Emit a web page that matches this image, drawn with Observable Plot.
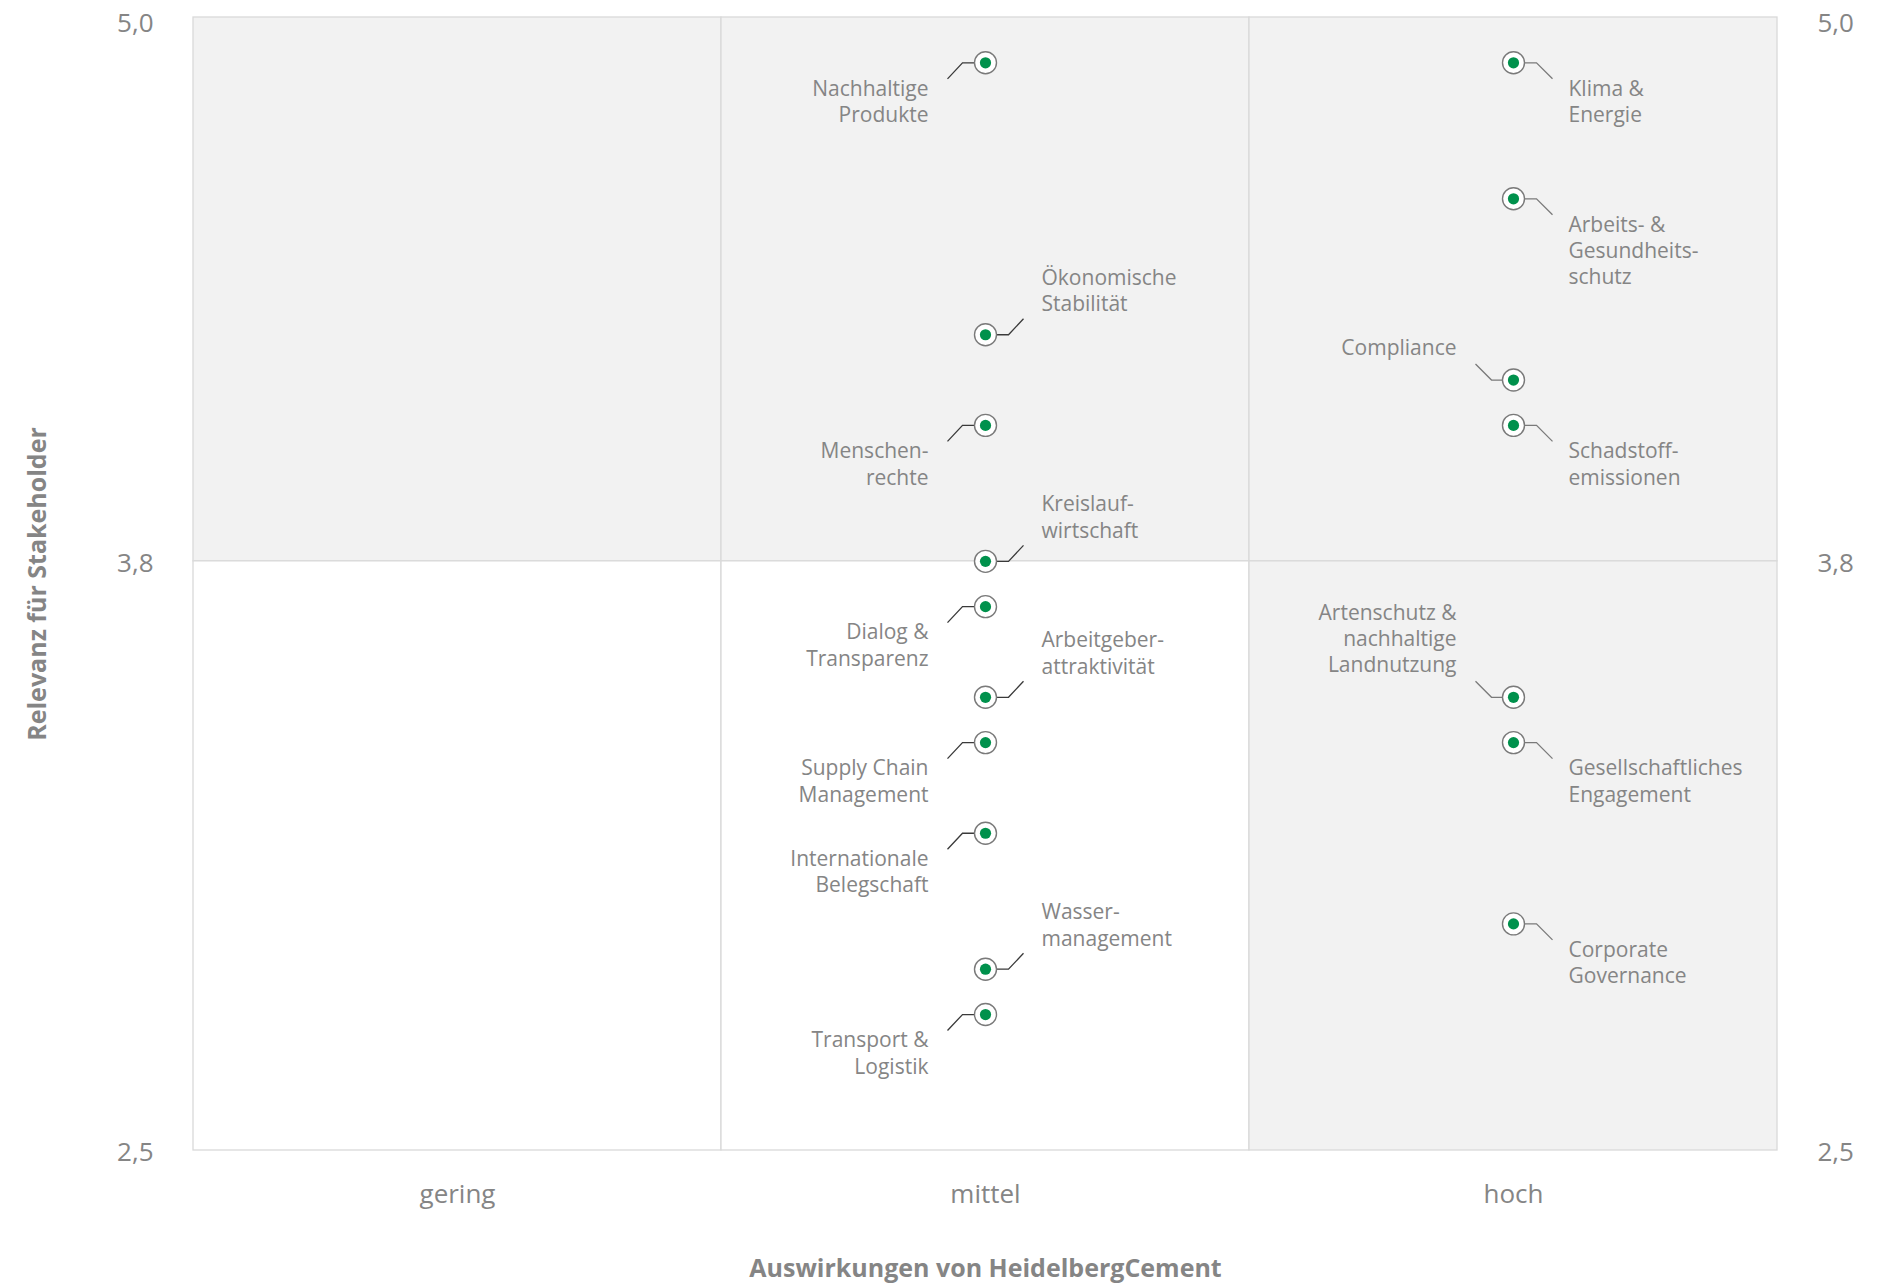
<!DOCTYPE html>
<html lang="de">
<head>
<meta charset="utf-8">
<script src="https://cdn.jsdelivr.net/npm/d3@7"></script>
<script src="https://cdn.jsdelivr.net/npm/@observablehq/plot@0.6"></script>
<style>
  html, body { margin: 0; padding: 0; background: #ffffff; }
  #chart svg { display: block; }
</style>
</head>
<body>
<div id="chart"></div>
<script>
// Wesentlichkeitsmatrix: Auswirkungen (Spalten) gegen Relevanz für Stakeholder (Skala 2,5–5,0)
const impactLevels = ["gering", "mittel", "hoch"];
const relevanceTicks = [2.5, 3.8];
const relevanceTopTick = [5.0];
const xTitle = "Auswirkungen von HeidelbergCement";
const yTitle = "Relevanz für Stakeholder";

// Themen, ihre Einstufung und die Seite, auf der die Beschriftung steht
const topics = [
  "Nachhaltige\nProdukte", "Klima &\nEnergie", "Arbeits- &\nGesundheits-\nschutz",
  "Ökonomische\nStabilität", "Compliance", "Menschen-\nrechte", "Schadstoff-\nemissionen",
  "Kreislauf-\nwirtschaft", "Dialog &\nTransparenz", "Arbeitgeber-\nattraktivität",
  "Artenschutz &\nnachhaltige\nLandnutzung", "Supply Chain\nManagement",
  "Gesellschaftliches\nEngagement", "Internationale\nBelegschaft", "Corporate\nGovernance",
  "Wasser-\nmanagement", "Transport &\nLogistik"
];
const impact = [
  "mittel", "hoch", "hoch", "mittel", "hoch", "mittel", "hoch", "mittel", "mittel",
  "mittel", "hoch", "mittel", "hoch", "mittel", "hoch", "mittel", "mittel"
];
const relevance = [
  4.9, 4.9, 4.6, 4.3, 4.2, 4.1, 4.1, 3.8, 3.7, 3.5, 3.5, 3.4, 3.4, 3.2, 3.0, 2.9, 2.8
];
const labelSide = [
  "ld", "rd", "rd", "ru", "lu", "ld", "rd", "ru", "ld", "ru", "lu", "ld", "rd", "ld", "rd", "ru", "ld"
];

// Matrixfelder: Spalte, untere/obere Grenze, hinterlegt ja/nein
const cellColumn = ["gering", "mittel", "hoch", "gering", "mittel", "hoch"];
const cellLow = [3.8, 3.8, 3.8, 2.5, 2.5, 2.5];
const cellHigh = [5.0, 5.0, 5.0, 3.8, 3.8, 3.8];
const cellShaded = [true, true, true, false, false, true];

const points = topics.map((t, i) => ({
  topic: t, impact: impact[i], relevance: relevance[i], side: labelSide[i]
}));
const cells = cellColumn.map((c, i) => ({
  column: c, low: cellLow[i], high: cellHigh[i], shaded: cellShaded[i]
}));

const textColor = "#858585";
const green = "#00914c";
const font = "'Open Sans', 'DejaVu Sans', sans-serif";
const fmt = d => d.toFixed(1).replace(".", ",");

// Leader-line shapes, drawn around each point's centre
const leaderShape = {
  ld: { draw(c) { c.moveTo(-11, 0); c.lineTo(-23, 0); c.lineTo(-38, 16); } },
  rd: { draw(c) { c.moveTo(11, 0); c.lineTo(23, 0); c.lineTo(39, 16); } },
  ru: { draw(c) { c.moveTo(11, 0); c.lineTo(23, 0); c.lineTo(38, -16); } },
  lu: { draw(c) { c.moveTo(-11, 0); c.lineTo(-22, 0); c.lineTo(-38, -16); } }
};
const labelStyle = {
  ld: { textAnchor: "end", dx: -57, lineAnchor: "top", dy: 14 },
  rd: { textAnchor: "start", dx: 55, lineAnchor: "top", dy: 14 },
  ru: { textAnchor: "start", dx: 56, lineAnchor: "bottom", dy: -23.5 },
  lu: { textAnchor: "end", dx: -57, lineAnchor: "bottom", dy: -25 }
};
const leaderColor = { mittel: "#3a3a3a", hoch: "#7a7a7a" };

const leaderMarks = [];
const labelMarks = [];
for (const side of Object.keys(leaderShape)) {
  for (const col of ["mittel", "hoch"]) {
    const subset = points.filter(d => d.side === side && d.impact === col);
    if (!subset.length) continue;
    leaderMarks.push(Plot.dot(subset, {
      x: "impact", y: "relevance", symbol: leaderShape[side], r: 10,
      fill: "none", stroke: leaderColor[col], strokeWidth: 1.3
    }));
  }
  const sideSubset = points.filter(d => d.side === side);
  labelMarks.push(Plot.text(sideSubset, {
    x: "impact", y: "relevance", text: "topic",
    ...labelStyle[side],
    lineHeight: 1.257, fontSize: 21, fill: textColor, fontFamily: font
  }));
}

const tickStyle = { tickSize: 0, tickPadding: 39, fontSize: 26, fill: textColor, tickFormat: fmt, label: null };

const chart = Plot.plot({
  width: 1879,
  height: 1283,
  marginLeft: 192,
  marginRight: 101,
  marginTop: 17,
  marginBottom: 133,
  style: { fontFamily: font, background: "#ffffff", color: textColor },
  x: { type: "band", domain: impactLevels, padding: 0 },
  y: { domain: [2.5, 5.0] },
  marks: [
    // quadrant fields with thin borders
    Plot.barY(cells, {
      x: "column", y1: "low", y2: "high",
      fill: d => d.shaded ? "#f2f2f2" : "#ffffff",
      stroke: "#d9d9d9", strokeWidth: 1.3
    }),
    Plot.axisY(relevanceTicks, { anchor: "left", ...tickStyle, dy: 2 }),
    Plot.axisY(relevanceTicks, { anchor: "right", ...tickStyle, dy: 2 }),
    Plot.axisY(relevanceTopTick, { anchor: "left", ...tickStyle, dy: 6 }),
    Plot.axisY(relevanceTopTick, { anchor: "right", ...tickStyle, dy: 6 }),
    Plot.axisX({
      anchor: "bottom", tickSize: 0, tickPadding: 34, fontSize: 26, fill: textColor, label: null
    }),
    ...leaderMarks,
    Plot.dot(points, {
      x: "impact", y: "relevance", r: 11, fill: "#ffffff", stroke: "#7a7a7a", strokeWidth: 1.4
    }),
    Plot.dot(points, {
      x: "impact", y: "relevance", r: 5.6, fill: green, stroke: "none"
    }),
    ...labelMarks,
    // axis titles
    Plot.text([yTitle], {
      frameAnchor: "left", textAnchor: "middle", text: d => d, rotate: -90, dx: -155,
      fontSize: 25, fontWeight: "bold", fill: textColor, fontFamily: font
    }),
    Plot.text([xTitle], {
      frameAnchor: "bottom", textAnchor: "middle", text: d => d, dy: 126,
      fontSize: 25, fontWeight: "bold", fill: textColor, fontFamily: font
    })
  ]
});

document.getElementById("chart").appendChild(chart);
</script>
</body>
</html>
